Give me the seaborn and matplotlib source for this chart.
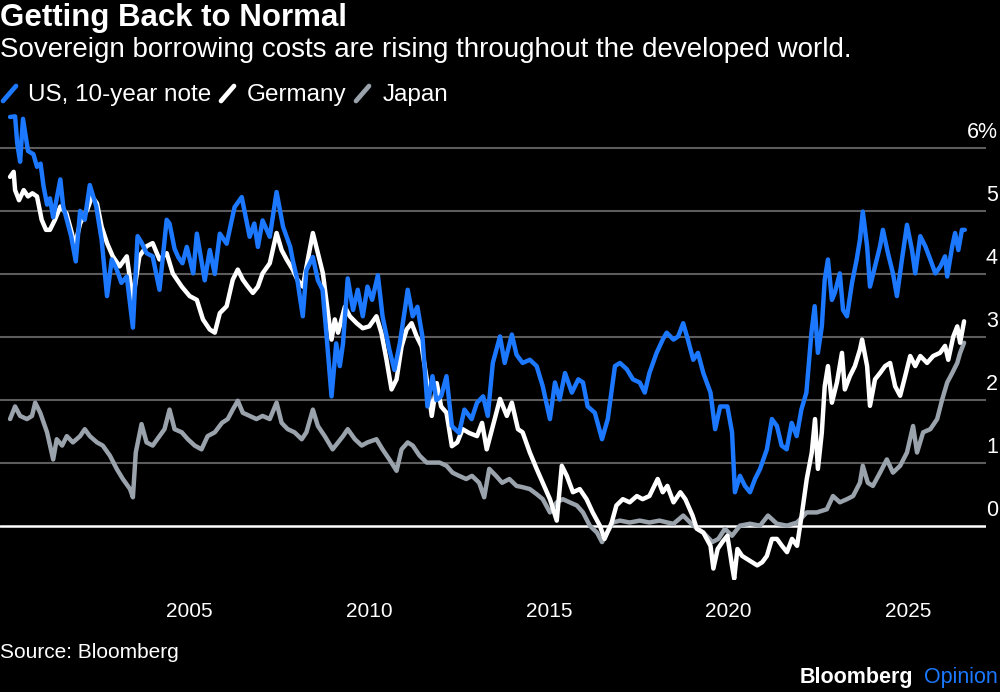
import pandas as pd
import seaborn as sns
import matplotlib.pyplot as plt
import matplotlib.transforms as mtransforms
from matplotlib.lines import Line2D

BG = "#000000"
US_BLUE = "#1b78ff"
DE_WHITE = "#ffffff"
JP_GRAY = "#9aa2ac"
GRID_GRAY = "#5c5c5c"
FONTS = ["Liberation Sans", "DejaVu Sans"]

# values (fractional year, percent)
us_years = [2000.0, 2000.14, 2000.2, 2000.28, 2000.36, 2000.5, 2000.65, 2000.75, 2000.85, 2000.93,
            2001.03, 2001.11, 2001.2, 2001.4, 2001.48, 2001.58, 2001.7, 2001.83, 2001.95, 2002.08,
            2002.22, 2002.4, 2002.55, 2002.7, 2002.83, 2002.97, 2003.1, 2003.25, 2003.42, 2003.55,
            2003.66, 2003.8, 2003.97, 2004.16, 2004.36, 2004.44, 2004.58, 2004.68, 2004.8, 2004.92,
            2005.1, 2005.2, 2005.42, 2005.56, 2005.7, 2005.84, 2006.03, 2006.25, 2006.45, 2006.67,
            2006.8, 2006.9, 2007.03, 2007.23, 2007.42, 2007.6, 2007.8, 2007.87, 2008.0, 2008.15,
            2008.25, 2008.43, 2008.57, 2008.7, 2008.8, 2008.95, 2009.08, 2009.18, 2009.27, 2009.4,
            2009.55, 2009.68, 2009.82, 2009.95, 2010.08, 2010.24, 2010.37, 2010.56, 2010.7, 2010.85,
            2010.99, 2011.07, 2011.21, 2011.34, 2011.48, 2011.62, 2011.76, 2011.87, 2012.0, 2012.15,
            2012.3, 2012.5, 2012.65, 2012.85, 2013.0, 2013.17, 2013.3, 2013.44, 2013.64, 2013.77,
            2013.97, 2014.1, 2014.27, 2014.47, 2014.66, 2014.83, 2015.03, 2015.17, 2015.3, 2015.45,
            2015.64, 2015.82, 2015.95, 2016.08, 2016.28, 2016.48, 2016.64, 2016.84, 2016.98, 2017.17,
            2017.34, 2017.53, 2017.67, 2017.8, 2018.0, 2018.17, 2018.28, 2018.47, 2018.6, 2018.74,
            2018.87, 2019.02, 2019.15, 2019.3, 2019.5, 2019.63, 2019.77, 2019.97, 2020.1, 2020.18,
            2020.32, 2020.46, 2020.6, 2020.74, 2020.88, 2021.07, 2021.21, 2021.35, 2021.48, 2021.62,
            2021.76, 2021.9, 2022.03, 2022.17, 2022.31, 2022.4, 2022.49, 2022.6, 2022.68, 2022.77,
            2022.88, 2022.96, 2023.1, 2023.19, 2023.3, 2023.44, 2023.57, 2023.66, 2023.74, 2023.86,
            2023.94, 2024.08, 2024.22, 2024.3, 2024.44, 2024.58, 2024.69, 2024.83, 2024.97, 2025.11,
            2025.2, 2025.34, 2025.48, 2025.62, 2025.76, 2025.9, 2026.03, 2026.09, 2026.23, 2026.31,
            2026.4, 2026.5, 2026.58]
us_yield = [6.49, 6.5, 6.07, 5.78, 6.46, 5.95, 5.9, 5.7, 5.75, 5.4,
            5.1, 5.2, 4.9, 5.5, 5.07, 4.86, 4.6, 4.2, 5.0, 4.86,
            5.41, 5.07, 4.54, 3.65, 4.23, 4.07, 3.86, 3.96, 3.15, 4.6,
            4.5, 4.33, 4.28, 3.75, 4.86, 4.8, 4.4, 4.27, 4.17, 4.43,
            4.01, 4.64, 3.9, 4.38, 4.0, 4.64, 4.48, 5.06, 5.22, 4.59,
            4.8, 4.43, 4.85, 4.59, 5.3, 4.75, 4.43, 4.22, 3.9, 3.33,
            4.06, 4.27, 3.9, 3.75, 3.1, 2.06, 2.9, 2.54, 2.9, 3.93,
            3.43, 3.75, 3.33, 3.8, 3.59, 3.98, 3.33, 2.8, 2.48, 2.9,
            3.43, 3.75, 3.33, 3.48, 3.01, 1.9, 2.38, 2.0, 2.06, 2.38,
            1.59, 1.48, 1.85, 1.7, 1.96, 2.06, 1.75, 2.59, 3.01, 2.59,
            3.04, 2.72, 2.59, 2.64, 2.54, 2.22, 1.7, 2.28, 2.01, 2.43,
            2.12, 2.33, 2.28, 1.9, 1.8, 1.38, 1.7, 2.54, 2.59, 2.49,
            2.33, 2.28, 2.12, 2.43, 2.75, 2.96, 3.07, 2.96, 3.01, 3.22,
            2.96, 2.64, 2.75, 2.43, 2.12, 1.54, 1.9, 1.9, 1.49, 0.54,
            0.8, 0.64, 0.54, 0.75, 0.91, 1.22, 1.7, 1.59, 1.28, 1.22,
            1.64, 1.43, 1.85, 2.12, 3.07, 3.49, 2.75, 3.17, 3.91, 4.23,
            3.59, 3.7, 4.01, 3.43, 3.33, 3.86, 4.23, 4.54, 4.99, 4.44,
            3.8, 4.12, 4.44, 4.7, 4.33, 4.01, 3.65, 4.23, 4.78, 4.38,
            4.01, 4.6, 4.44, 4.23, 4.01, 4.12, 4.28, 3.96, 4.44, 4.65,
            4.38, 4.7, 4.7]

de_years = [2000.0, 2000.1, 2000.14, 2000.25, 2000.38, 2000.5, 2000.62, 2000.75, 2000.88, 2001.0,
            2001.11, 2001.25, 2001.4, 2001.57, 2001.72, 2001.8, 2001.95, 2002.15, 2002.28, 2002.42,
            2002.55, 2002.7, 2002.86, 2003.05, 2003.25, 2003.42, 2003.6, 2003.8, 2003.97, 2004.16,
            2004.36, 2004.53, 2004.78, 2005.0, 2005.2, 2005.37, 2005.56, 2005.7, 2005.84, 2006.03,
            2006.2, 2006.34, 2006.48, 2006.62, 2006.76, 2006.9, 2007.03, 2007.23, 2007.42, 2007.56,
            2007.7, 2007.87, 2008.0, 2008.15, 2008.29, 2008.43, 2008.57, 2008.71, 2008.85, 2008.95,
            2009.04, 2009.13, 2009.32, 2009.46, 2009.65, 2009.82, 2010.0, 2010.2, 2010.34, 2010.48,
            2010.62, 2010.76, 2010.9, 2011.04, 2011.18, 2011.32, 2011.46, 2011.6, 2011.74, 2011.88,
            2012.0, 2012.15, 2012.3, 2012.45, 2012.6, 2012.78, 2013.0, 2013.14, 2013.27, 2013.44,
            2013.64, 2013.83, 2013.97, 2014.14, 2014.27, 2014.47, 2014.66, 2014.83, 2015.03, 2015.22,
            2015.36, 2015.5, 2015.67, 2015.86, 2016.05, 2016.22, 2016.42, 2016.55, 2016.75, 2016.88,
            2017.06, 2017.25, 2017.45, 2017.61, 2017.8, 2018.03, 2018.17, 2018.3, 2018.47, 2018.66,
            2018.8, 2019.0, 2019.12, 2019.3, 2019.5, 2019.58, 2019.7, 2019.83, 2019.97, 2020.1,
            2020.16, 2020.25, 2020.38, 2020.52, 2020.66, 2020.8, 2020.94, 2021.07, 2021.21, 2021.35,
            2021.49, 2021.63, 2021.77, 2021.91, 2022.05, 2022.18, 2022.32, 2022.41, 2022.49, 2022.6,
            2022.68, 2022.77, 2022.88, 2023.02, 2023.16, 2023.24, 2023.38, 2023.52, 2023.66, 2023.72,
            2023.86, 2023.94, 2024.08, 2024.22, 2024.36, 2024.5, 2024.64, 2024.78, 2024.92, 2025.06,
            2025.2, 2025.34, 2025.53, 2025.7, 2025.89, 2026.03, 2026.12, 2026.26, 2026.37, 2026.45,
            2026.56]
de_yield = [5.54, 5.62, 5.33, 5.17, 5.33, 5.23, 5.28, 5.23, 4.86, 4.7,
            4.7, 4.86, 5.07, 4.96, 4.65, 4.44, 4.8, 5.02, 5.23, 5.12,
            4.75, 4.49, 4.28, 4.12, 4.28, 3.59, 4.28, 4.44, 4.49, 4.23,
            4.33, 4.01, 3.8, 3.65, 3.59, 3.28, 3.12, 3.07, 3.38, 3.49,
            3.91, 4.07, 3.91, 3.8, 3.7, 3.8, 4.01, 4.17, 4.65, 4.38,
            4.23, 4.07, 3.91, 3.8, 4.23, 4.65, 4.33, 4.01, 3.38, 2.96,
            3.28, 3.07, 3.48, 3.33, 3.22, 3.14, 3.17, 3.33, 3.06, 2.64,
            2.17, 2.33, 2.85, 3.12, 3.22, 3.01, 2.85, 2.33, 1.75, 2.27,
            1.9, 1.8, 1.27, 1.33, 1.54, 1.48, 1.43, 1.64, 1.22, 1.59,
            2.02, 1.75, 1.96, 1.54, 1.49, 1.17, 0.91, 0.69, 0.43, 0.09,
            0.96, 0.8, 0.54, 0.59, 0.43, 0.22, 0.01, -0.2, 0.06, 0.33,
            0.43, 0.38, 0.48, 0.43, 0.48, 0.75, 0.54, 0.64, 0.38, 0.54,
            0.43, 0.17, -0.04, -0.1, -0.31, -0.67, -0.36, -0.25, -0.15, -0.63,
            -0.83, -0.36, -0.47, -0.52, -0.57, -0.62, -0.57, -0.47, -0.2, -0.2,
            -0.31, -0.41, -0.2, -0.31, 0.22, 0.75, 1.17, 1.7, 0.91, 1.49,
            2.22, 2.54, 1.96, 2.28, 2.75, 2.17, 2.38, 2.54, 2.8, 2.96,
            2.54, 1.91, 2.33, 2.43, 2.54, 2.59, 2.22, 2.07, 2.38, 2.7,
            2.54, 2.7, 2.59, 2.7, 2.75, 2.86, 2.64, 3.01, 3.17, 2.91,
            3.25]

jp_years = [2000.0, 2000.14, 2000.28, 2000.47, 2000.61, 2000.7, 2000.84, 2001.03, 2001.2, 2001.3,
            2001.45, 2001.58, 2001.75, 2001.95, 2002.08, 2002.22, 2002.42, 2002.58, 2002.78, 2002.97,
            2003.14, 2003.34, 2003.42, 2003.5, 2003.66, 2003.8, 2003.97, 2004.16, 2004.3, 2004.44,
            2004.58, 2004.78, 2004.95, 2005.14, 2005.33, 2005.5, 2005.7, 2005.9, 2006.06, 2006.2,
            2006.34, 2006.48, 2006.67, 2006.86, 2007.03, 2007.23, 2007.42, 2007.56, 2007.73, 2007.92,
            2008.12, 2008.25, 2008.43, 2008.57, 2008.76, 2008.98, 2009.13, 2009.27, 2009.4, 2009.6,
            2009.79, 2009.95, 2010.2, 2010.37, 2010.56, 2010.76, 2010.9, 2011.07, 2011.21, 2011.4,
            2011.6, 2011.76, 2011.96, 2012.15, 2012.32, 2012.5, 2012.7, 2012.86, 2013.06, 2013.2,
            2013.34, 2013.53, 2013.7, 2013.9, 2014.1, 2014.27, 2014.47, 2014.66, 2014.83, 2015.03,
            2015.22, 2015.39, 2015.58, 2015.78, 2015.95, 2016.14, 2016.34, 2016.48, 2016.62, 2016.78,
            2016.98, 2017.25, 2017.53, 2017.8, 2018.08, 2018.3, 2018.47, 2018.74, 2019.02, 2019.3,
            2019.55, 2019.72, 2019.9, 2020.1, 2020.32, 2020.6, 2020.88, 2021.1, 2021.35, 2021.63,
            2021.91, 2022.18, 2022.46, 2022.74, 2022.91, 2023.1, 2023.3, 2023.47, 2023.66, 2023.74,
            2023.88, 2024.02, 2024.22, 2024.41, 2024.58, 2024.78, 2024.97, 2025.14, 2025.25, 2025.42,
            2025.62, 2025.81, 2025.95, 2026.09, 2026.23, 2026.37, 2026.45, 2026.56]
jp_yield = [1.7, 1.9, 1.75, 1.7, 1.75, 1.96, 1.8, 1.49, 1.06, 1.38,
            1.28, 1.43, 1.33, 1.43, 1.54, 1.43, 1.33, 1.28, 1.12, 0.91,
            0.75, 0.59, 0.46, 1.17, 1.62, 1.33, 1.28, 1.43, 1.54, 1.85,
            1.54, 1.49, 1.38, 1.28, 1.22, 1.43, 1.49, 1.64, 1.7, 1.85,
            1.99, 1.8, 1.75, 1.7, 1.75, 1.7, 1.96, 1.64, 1.54, 1.49,
            1.38, 1.49, 1.85, 1.59, 1.43, 1.22, 1.33, 1.43, 1.54, 1.38,
            1.28, 1.33, 1.38, 1.22, 1.06, 0.88, 1.22, 1.33, 1.28, 1.12,
            1.01, 1.01, 1.01, 0.96, 0.85, 0.8, 0.75, 0.8, 0.69, 0.46,
            0.91, 0.8, 0.69, 0.75, 0.64, 0.62, 0.59, 0.51, 0.43, 0.22,
            0.38, 0.43, 0.38, 0.33, 0.22, 0.01, -0.1, -0.25, -0.1, 0.06,
            0.09, 0.06, 0.09, 0.06, 0.09, 0.06, 0.04, 0.17, 0.01, -0.1,
            -0.25, -0.2, -0.04, -0.15, 0.01, 0.04, 0.01, 0.17, 0.04, 0.01,
            0.06, 0.22, 0.22, 0.27, 0.48, 0.38, 0.43, 0.48, 0.69, 0.96,
            0.69, 0.64, 0.85, 1.06, 0.85, 0.96, 1.17, 1.59, 1.17, 1.49,
            1.54, 1.7, 2.01, 2.28, 2.43, 2.59, 2.75, 2.91]

y_levels = [0, 1, 2, 3, 4, 5, 6]
y_labels = ["0", "1", "2", "3", "4", "5", "6%"]
x_major = [2005, 2010, 2015, 2020, 2025]
x_minor = list(range(2001, 2027))

series = [
    ("Japan", jp_years, jp_yield, JP_GRAY),
    ("Germany", de_years, de_yield, DE_WHITE),
    ("US, 10-year note", us_years, us_yield, US_BLUE),
]

sns.set_style("dark")
plt.rcParams["font.family"] = FONTS

fig = plt.figure(figsize=(10, 6.92), dpi=100, facecolor=BG)
ax = fig.add_axes([0.0, 0.162, 0.986, 0.679])
ax.set_facecolor(BG)

for y in y_levels:
    ax.axhline(y, color=DE_WHITE if y == 0 else GRID_GRAY, linewidth=1.8 if y == 0 else 1.5, zorder=1)

for name, xs, ys, color in series:
    df = pd.DataFrame({"year": xs, "yield": ys})
    sns.lineplot(data=df, x="year", y="yield", color=color, linewidth=3.2,
                 estimator=None, sort=False, ax=ax, zorder=3)

ax.set_xlim(1999.72, 2027.17)
ax.set_ylim(-0.85, 6.6)
ax.set_xlabel("")
ax.set_ylabel("")
ax.grid(False)
for s in ax.spines.values():
    s.set_visible(False)

ax.set_yticks([])
ax.set_xticks(x_major)
ax.set_xticklabels([str(v) for v in x_major])
ax.set_xticks([v for v in x_minor if v not in x_major], minor=True)
ax.tick_params(axis="x", which="major", direction="out", length=12, width=1.5,
               color="white", labelcolor="white", labelsize=15, pad=4)
ax.tick_params(axis="x", which="minor", direction="out", length=7, width=1.5, color="white")

# y labels sit above their gridlines on the right
trans = mtransforms.blended_transform_factory(ax.transAxes, ax.transData)
for y, lab in zip(y_levels, y_labels):
    ax.text(1.012, y + 0.25, lab, transform=trans, ha="right", va="center",
            color="white", fontsize=15.5)

# titles
fig.text(0.0, 1 - 18 / 692, "Getting Back to Normal", color="white", fontsize=22.5,
         fontweight="bold", ha="left", va="center")
fig.text(0.0, 1 - 50 / 692, "Sovereign borrowing costs are rising throughout the developed world.",
         color="white", fontsize=20, ha="left", va="center")

# legend with slanted line keys
legend_items = [("US, 10-year note", US_BLUE, 0.003, 0.028),
                ("Germany", DE_WHITE, 0.221, 0.247),
                ("Japan", JP_GRAY, 0.356, 0.383)]
for label, color, kx, tx in legend_items:
    fig.add_artist(Line2D([kx, kx + 0.013], [1 - 101 / 692, 1 - 86 / 692],
                          transform=fig.transFigure, color=color, linewidth=3.4))
    fig.text(tx, 1 - 95 / 692, label, color="white", fontsize=17.5, ha="left", va="center")

# footer
fig.text(0.0, 1 - 653 / 692, "Source: Bloomberg", color="white", fontsize=15,
         ha="left", va="center")
fig.text(0.913, 1 - 678 / 692, "Bloomberg", color="white", fontsize=15.5,
         fontweight="bold", ha="right", va="center")
fig.text(0.998, 1 - 678 / 692, "Opinion", color=US_BLUE, fontsize=15.5,
         ha="right", va="center")

fig.savefig("out.png", dpi=100, facecolor=BG)
